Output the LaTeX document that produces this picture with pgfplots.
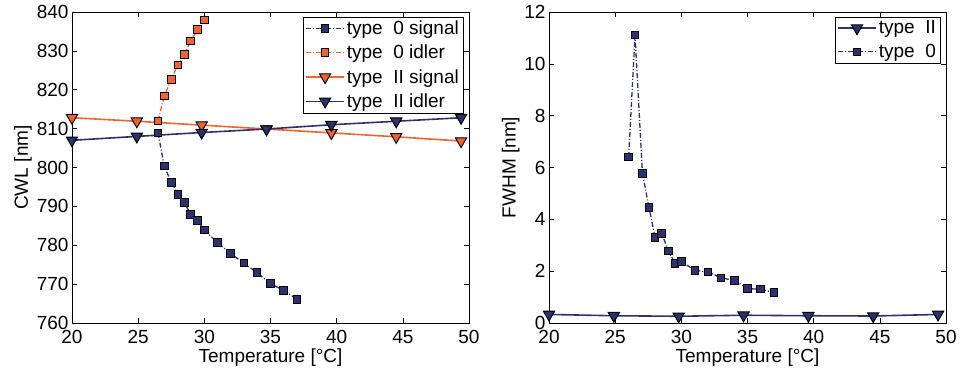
\documentclass[border=0pt]{standalone}
\usepackage{fontspec}
\setmainfont{Liberation Sans}
\usepackage{pgfplots}
\pgfplotsset{compat=1.18}
\definecolor{navy}{RGB}{48,48,110}
\definecolor{orng}{RGB}{240,100,50}
\pgfplotsset{
  legend image code/.code={\draw[mark repeat=2,mark phase=2,#1] plot coordinates {(0pt,0pt) (19pt,0pt) (38pt,0pt)};},
  mystyle/.style={
    scale only axis, width=397pt, height=311pt,
    xmin=20, xmax=50, xtick={20,25,...,50},
    tick align=inside, major tick length=5pt,
    tick style={black, line width=0.6pt},
    axis line style={line width=0.8pt},
    font=\fontsize{19}{22}\selectfont,
    /pgf/number format/assume math mode=true,
    xticklabel style={yshift=-4pt},
    xlabel={Temperature [°C]},
    xlabel style={yshift=2pt},
    ylabel style={yshift=-2pt},
    legend cell align=left,
    legend style={draw=black, font=\fontsize{19}{21}\selectfont,
      anchor=north east, at={(0.985,0.985)}, inner sep=2pt, row sep=5pt,
      nodes={inner sep=2pt}},
  },
  t0/.style={#1, line width=1.3pt, dash pattern=on 5pt off 2pt on 1pt off 2pt, mark=square*, mark size=3.8pt,
    mark options={solid, fill=#1, draw=black, line width=1pt}},
  t2/.style={#1, line width=1.6pt, mark=triangle*, mark size=6.5pt,
    mark options={solid, fill=#1, draw=black, line width=1pt, rotate=180}},
}
\begin{document}
\begin{tikzpicture}
\begin{axis}[mystyle, ymin=760, ymax=840, ytick={760,770,...,840}, ylabel={CWL [nm]}]
\addplot[t0=navy] coordinates {
(26.5,808.9) (26.97,800.4) (27.5,796.2) (28.0,793.1) (28.5,791.0) (28.96,787.9)
(29.5,786.4) (30.0,783.9) (31.0,780.7) (31.96,777.9) (33.0,775.4) (33.97,773.0)
(35.0,770.1) (36.0,768.4) (37.0,766.1)};
\addlegendentry{type\ \ 0 signal}
\addplot[t0=orng] coordinates {
(26.5,812.0) (26.97,818.4) (27.5,822.7) (28.0,826.4) (28.5,829.1) (28.96,832.5)
(29.5,835.5) (30.0,837.9)};
\addlegendentry{type\ \ 0 idler}
\addplot[t2=orng] coordinates {
(20,812.8) (24.9,811.9) (29.8,810.9) (34.7,809.9) (39.6,808.9) (44.5,807.9) (49.4,806.8)};
\addlegendentry{type\ \ II signal}
\addplot[t2=navy] coordinates {
(20,807.0) (24.9,808.0) (29.8,809.0) (34.7,809.9) (39.6,811.0) (44.5,811.9) (49.4,812.8)};
\addlegendentry{type\ \ II idler}
\end{axis}
\begin{axis}[mystyle, xshift=477pt, ymin=0, ymax=12, ytick={0,2,...,12}, ylabel={FWHM [nm]}]
\addplot[t2=navy] coordinates {
(20,0.33) (24.9,0.28) (29.8,0.26) (34.7,0.30) (39.6,0.28) (44.5,0.27) (49.4,0.33)};
\addlegendentry{type\ \ II}
\addplot[t0=navy] coordinates {
(26.02,6.41) (26.5,11.11) (27.06,5.78) (27.56,4.45) (28.02,3.29) (28.52,3.46)
(29.02,2.78) (29.53,2.30) (30.0,2.37) (31.04,2.03) (32.02,1.97) (33.0,1.74)
(34.0,1.65) (35.0,1.32) (36.0,1.31) (36.99,1.17)};
\addlegendentry{type\ \ 0}
\end{axis}
\pgfresetboundingbox
\path[use as bounding box] (-72pt,-45pt) rectangle (891pt,323pt);
\end{tikzpicture}
\end{document}
